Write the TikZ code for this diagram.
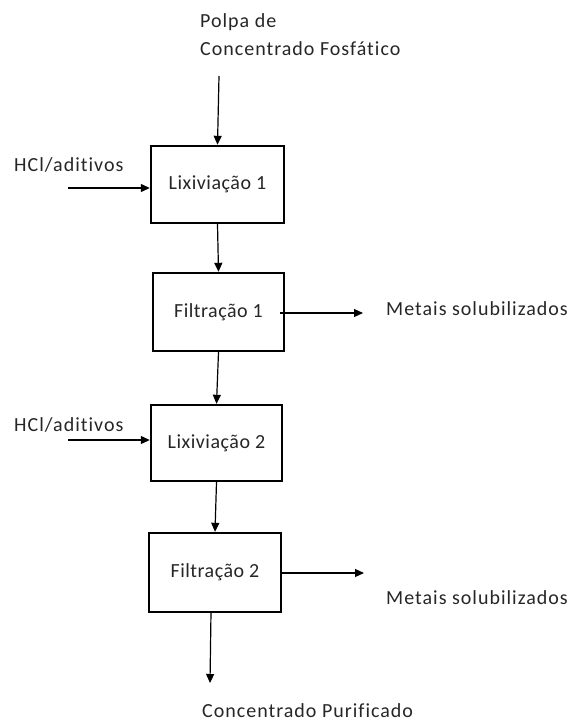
\documentclass[tikz,border=0pt]{standalone}
\usepackage{fontspec}
\setmainfont{Carlito}[Ligatures=NoCommon]
\newfontfamily\lblfont{Carlito}[LetterSpace=5,Ligatures=NoCommon]
\newfontfamily\boxfont{Carlito}[LetterSpace=2.5,Ligatures=NoCommon]
\usetikzlibrary{arrows.meta,calc}
\definecolor{txt}{RGB}{38,38,38}
\tikzset{
  procbox/.style={draw=black, line width=2.4pt, fill=white, inner sep=0pt, text=txt, font=\boxfont\fontsize{20}{24}\selectfont},
  lbl/.style={inner sep=0pt, text=txt, font=\lblfont\fontsize{20}{28}\selectfont, anchor=west},
  flow/.style={draw=black, line width=1.2pt, -{Triangle[length=9pt,width=8pt]}}
}
\begin{document}
\begin{tikzpicture}[x=1pt,y=-1pt]
\useasboundingbox (0,0) rectangle (572,721);
% process boxes
\node[procbox, minimum width=133pt, minimum height=77pt] (b1) at (217.5,184.5) {Lixiviação 1};
\node[procbox, minimum width=131pt, minimum height=78pt] (b2) at (218.5,312) {Filtração 1};
\node[procbox, minimum width=131pt, minimum height=76pt] (b3) at (216.5,443) {Lixiviação 2};
\node[procbox, minimum width=132pt, minimum height=79pt] (b4) at (215,572.5) {Filtração 2};
% labels
\node[lbl, align=left] (polpa) at (200,35) {Polpa de\\Concentrado Fosfático};
\node[lbl] (hcl1) at (14,165) {HCl/aditivos};
\node[lbl] (hcl2) at (14,425) {HCl/aditivos};
\node[lbl] (met1) at (386,309) {Metais solubilizados};
\node[lbl] (met2) at (386,598) {Metais solubilizados};
\node[lbl, anchor=base west] (conc) at (202,717) {Concentrado Purificado};
% free ends
\coordinate (pin) at (219,76);
\coordinate (h1) at (68,188);
\coordinate (h2) at (68,440);
\coordinate (m1) at (363,313);
\coordinate (m2) at (364,573);
\coordinate (cout) at (210,683);
\coordinate (b2out) at (280,313);
\coordinate (b4out) at (211,612);
% connectors
\draw[flow] (pin) -- (b1.north);
\draw[flow] (h1) -- (h1 -| b1.west);
\draw[flow] (b1.south) -- (b2.north);
\draw[flow] (b2out) -- (m1);
\draw[flow] (b2.south) -- (b3.north);
\draw[flow] (h2) -- (h2 -| b3.west);
\draw[flow] (b3.south) -- (b4.north);
\draw[flow] (b4.east |- m2) -- (m2);
\draw[flow] (b4out) -- (cout);
\end{tikzpicture}
\end{document}
